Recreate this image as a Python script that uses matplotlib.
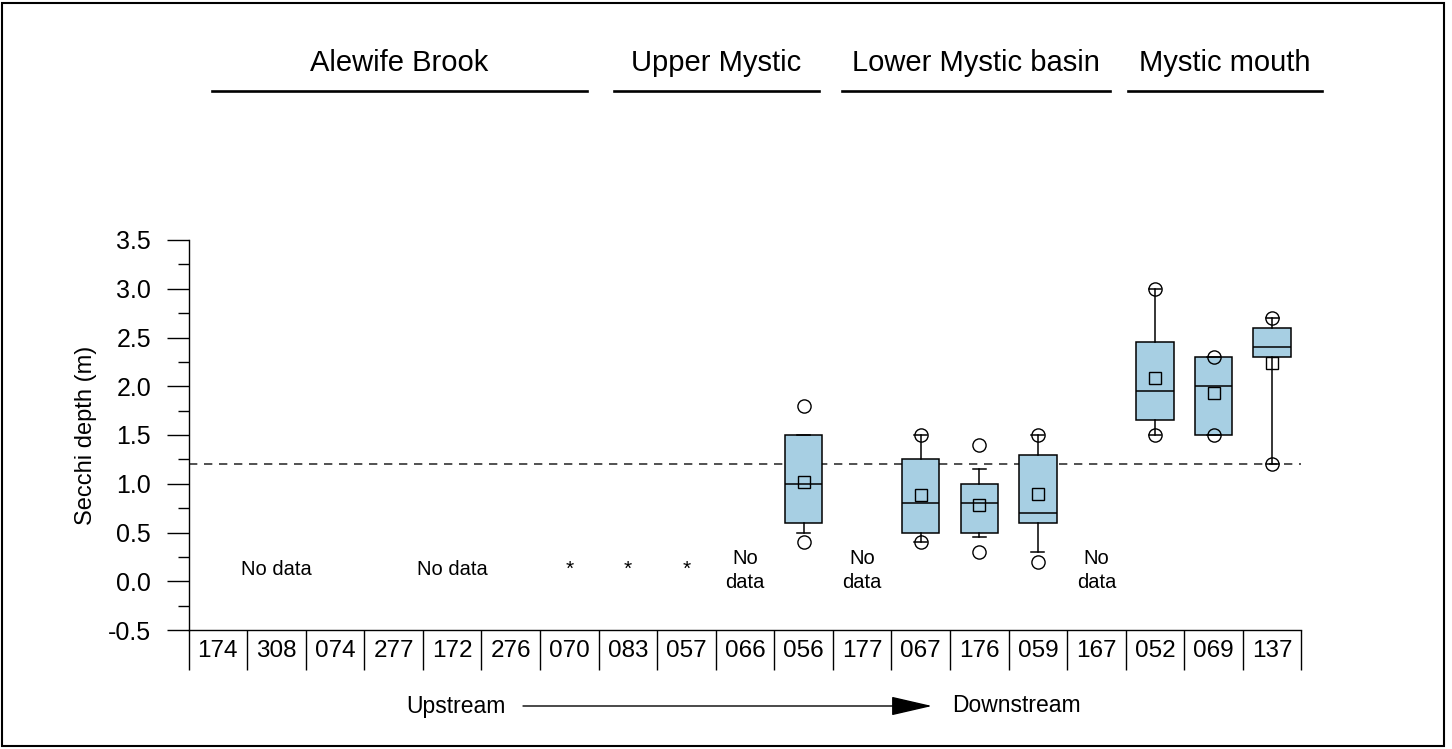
import numpy as np
import matplotlib
matplotlib.use("Agg")
import matplotlib.pyplot as plt
from matplotlib.lines import Line2D
from matplotlib.patches import Rectangle
from matplotlib.ticker import MultipleLocator, FixedLocator, NullFormatter
import matplotlib.transforms as mtransforms

plt.rcParams['font.family'] = ['Liberation Sans', 'DejaVu Sans']

# stations, upstream -> downstream
stations = ["174", "308", "074", "277", "172", "276", "070", "083", "057", "066",
            "056", "177", "067", "176", "059", "167", "052", "069", "137"]

# box statistics (m)
box_stations = ["056", "067", "176", "059", "052", "069", "137"]
q1      = [0.60, 0.50, 0.50, 0.60, 1.65, 1.50, 2.30]
median  = [1.00, 0.80, 0.80, 0.70, 1.95, 2.00, 2.40]
q3      = [1.50, 1.25, 1.00, 1.30, 2.45, 2.30, 2.60]
mean    = [1.02, 0.88, 0.78, 0.89, 2.08, 1.93, 2.24]
whis_lo = [0.50, 0.40, 0.45, 0.30, 1.50, 1.50, 1.20]
whis_hi = [1.50, 1.50, 1.15, 1.50, 3.00, 2.30, 2.70]
fliers  = [[0.4, 1.8], [0.4, 1.5], [0.3, 1.4], [0.2, 1.5],
           [1.5, 3.0], [1.5, 2.3], [1.2, 2.7]]

nodata_single = ["308", "172"]          # "No data" on one line
nodata_double = ["066", "177", "167"]   # "No\ndata"
star_stations = ["070", "083", "057"]

threshold = 1.2

# region headers and the x span (station units) of their underline
region_names = ["Alewife Brook", "Upper Mystic", "Lower Mystic basin", "Mystic mouth"]
region_spans = [(-0.1, 6.3), (6.76, 10.26), (10.66, 15.23), (15.54, 18.85)]

box_color = "#a7cfe3"

fig = plt.figure(figsize=(14.52, 7.49), dpi=100)
ax = fig.add_axes([188.5 / 1452, 119 / 749, 1113 / 1452, 390 / 749])

pos = {s: i for i, s in enumerate(stations)}

stats = []
for k, s in enumerate(box_stations):
    stats.append(dict(label=s, q1=q1[k], med=median[k], q3=q3[k], mean=mean[k],
                      whislo=whis_lo[k], whishi=whis_hi[k], fliers=fliers[k]))

ax.bxp(stats, positions=[pos[s] for s in box_stations], widths=0.64,
       capwidths=0.22, patch_artist=True, showmeans=True,
       boxprops=dict(facecolor=box_color, edgecolor="black", linewidth=1.1),
       medianprops=dict(color="black", linewidth=1.1),
       whiskerprops=dict(color="black", linewidth=1.1),
       capprops=dict(color="black", linewidth=1.1),
       flierprops=dict(marker="o", markerfacecolor="none", markeredgecolor="black",
                       markersize=9.5, markeredgewidth=1.0),
       meanprops=dict(marker="s", markerfacecolor="none", markeredgecolor="black",
                      markersize=8.5, markeredgewidth=1.0),
       manage_ticks=False)

ax.axhline(threshold, color="#333333", linewidth=1.2, linestyle=(0, (5, 4)), zorder=0)

for s in nodata_single:
    ax.text(pos[s], 0.065, "No data", ha="center", va="baseline", fontsize=14.5)
for s in nodata_double:
    ax.text(pos[s], 0.11, "No\ndata", ha="center", va="center", fontsize=14.5,
            linespacing=1.3)
for s in star_stations:
    ax.text(pos[s], 0.065, "*", ha="center", va="baseline", fontsize=15)

ax.set_xlim(-0.5, len(stations) - 0.5)
ax.set_ylim(-0.5, 3.5)

ax.yaxis.set_major_locator(MultipleLocator(0.5))
ax.yaxis.set_minor_locator(MultipleLocator(0.25))
ax.yaxis.set_major_formatter(plt.FuncFormatter(lambda v, p: f"{v:.1f}"))
ax.tick_params(axis="y", which="major", length=16, width=1.0, labelsize=18, pad=11)
ax.tick_params(axis="y", which="minor", length=8, width=1.0)

ax.xaxis.set_major_locator(FixedLocator(range(len(stations))))
ax.set_xticklabels(stations)
ax.xaxis.set_minor_locator(FixedLocator(np.arange(-0.5, len(stations), 1.0)))
ax.xaxis.set_minor_formatter(NullFormatter())
ax.tick_params(axis="x", which="major", length=0, labelsize=17.5, pad=7)
ax.tick_params(axis="x", which="minor", length=29, width=1.0)

for side in ["top", "right"]:
    ax.spines[side].set_visible(False)
for side in ["left", "bottom"]:
    ax.spines[side].set_linewidth(1.0)

ax.set_ylabel("Secchi depth (m)", fontsize=17)
ax.yaxis.set_label_coords(-0.092, 0.5)
ax.yaxis.label.set_va("center")

# region headers above the plot
trans = mtransforms.blended_transform_factory(ax.transData, fig.transFigure)
for name, (x0, x1) in zip(region_names, region_spans):
    line = Line2D([x0, x1], [1 - 91 / 749] * 2, transform=trans, color="black",
                  linewidth=1.9, clip_on=False)
    fig.add_artist(line)
    fig.text((x0 + x1) / 2, 1 - 71 / 749, name, transform=trans, ha="center",
             va="baseline", fontsize=21)

# upstream / downstream arrow
y_arrow = 1 - 706 / 749
fig.text(456 / 1452, y_arrow, "Upstream", ha="center", va="center", fontsize=16.5)
fig.text(1016 / 1452, y_arrow, "Downstream", ha="center", va="center", fontsize=16.5)
ax.annotate("", xy=(932 / 1452, y_arrow), xytext=(523 / 1452, y_arrow),
            xycoords="figure fraction", textcoords="figure fraction",
            arrowprops=dict(arrowstyle="-|>,head_length=1.3,head_width=0.3",
                            mutation_scale=20, color="black", linewidth=1.0,
                            shrinkA=0, shrinkB=0))

# frame around the figure
fig.add_artist(Rectangle((2 / 1452, 3 / 749), 1442 / 1452, 743 / 749,
                         transform=fig.transFigure, fill=False,
                         edgecolor="black", linewidth=1.5))

fig.savefig("out.png", dpi=100)
